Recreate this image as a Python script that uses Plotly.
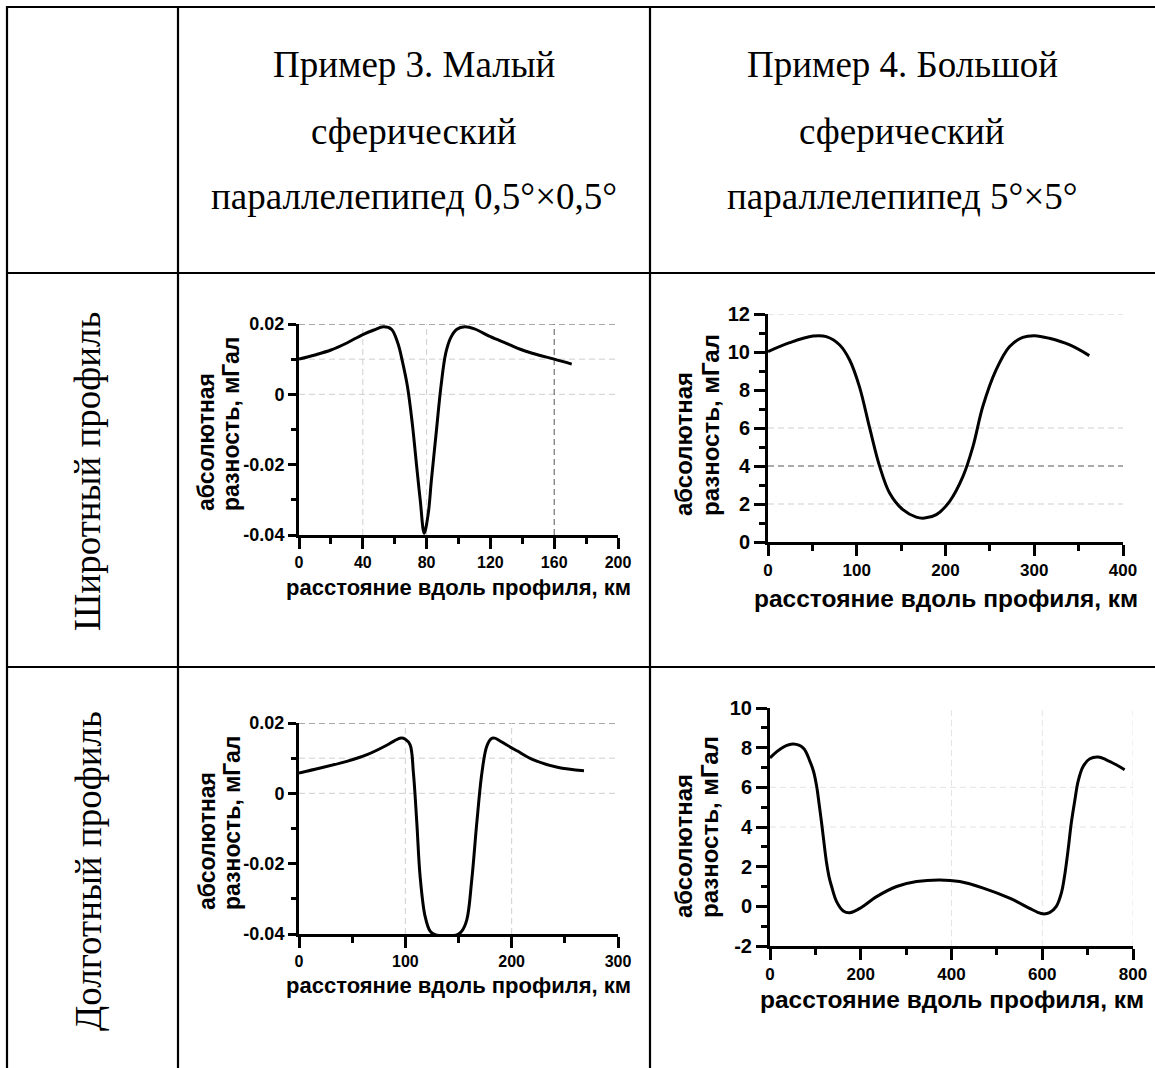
import plotly.graph_objects as go

W, H = 1155, 1068

# ---------------- data ----------------
# Пример 3, широтный профиль
X1 = [0, 10, 20, 30, 40, 47, 53, 58, 62, 65, 68, 71, 74, 76, 78.5, 81, 83, 86, 89, 92,
      95, 99, 104, 110, 120, 130, 140, 150, 160, 171]
Y1 = [0.0100, 0.0112, 0.0126, 0.0146, 0.0170, 0.0183, 0.0192, 0.0185, 0.0145, 0.0090,
      0.0022, -0.0082, -0.0215, -0.0300, -0.0395, -0.0340, -0.0244, -0.0110, 0.0022,
      0.0117, 0.0160, 0.0185, 0.0192, 0.0186, 0.0164, 0.0145, 0.0126, 0.0112, 0.0100, 0.0086]

# Пример 4, широтный профиль
X2 = [0, 24.4, 50.7, 65.7, 80.8, 92, 103, 114.6, 125.8, 137, 152, 167, 176.5, 189.7,
      204.7, 219.7, 231, 242, 257, 272, 287, 300.5, 317, 340, 362]
Y2 = [10.02, 10.49, 10.84, 10.81, 10.37, 9.58, 8.18, 5.99, 3.98, 2.58, 1.70, 1.31, 1.26,
      1.44, 2.14, 3.45, 5.03, 7.13, 9.06, 10.28, 10.77, 10.86, 10.72, 10.37, 9.81]

# Пример 3, долготный профиль
X3 = [0, 20, 45, 64, 82, 90, 96, 100, 104.5, 107.6, 110.8, 113.9, 118.6, 123.3, 128, 139,
      149, 153.1, 157.8, 162.5, 167.2, 172, 176.6, 181, 184, 188, 195, 205, 220, 243, 268]
Y3 = [0.0058, 0.0072, 0.0091, 0.0110, 0.0136, 0.0150, 0.0157, 0.0154, 0.0138, 0.0058,
      -0.0084, -0.0236, -0.0350, -0.0392, -0.0402, -0.0405, -0.0402, -0.0392, -0.0360,
      -0.0245, -0.0084, 0.0058, 0.0134, 0.0156, 0.0157, 0.0151, 0.0138, 0.0121, 0.0096,
      0.0074, 0.0064]

# Пример 4, долготный профиль
X4 = [0, 15, 29.4, 51.4, 73.4, 88, 96, 102.8, 108, 113.8, 119, 124.8, 130, 135.8, 146.8,
      161.5, 176, 198, 235, 279, 323, 374, 418, 470, 528, 572, 590, 602, 616, 631, 642,
      649, 657, 664, 672, 679, 690, 705, 723, 741, 763, 781.6]
Y4 = [7.48, 7.80, 8.03, 8.18, 7.98, 7.31, 6.80, 6.05, 5.20, 4.19, 3.20, 2.17, 1.50, 1.00,
      0.24, -0.23, -0.32, -0.10, 0.49, 1.00, 1.25, 1.33, 1.25, 0.92, 0.41, -0.10, -0.30,
      -0.38, -0.32, 0.00, 0.66, 1.50, 2.85, 4.20, 5.37, 6.30, 7.05, 7.44, 7.53, 7.39,
      7.14, 6.89]

# axis ranges / ticks
X_RANGES = [[0, 200], [0, 400], [0, 300], [0, 800]]
Y_RANGES = [[-0.04, 0.02], [0, 12], [-0.04, 0.02], [-2, 10]]
X_TICKS = [[0, 40, 80, 120, 160, 200], [0, 100, 200, 300, 400],
           [0, 100, 200, 300], [0, 200, 400, 600, 800]]
X_MINOR = [[20, 60, 100, 140, 180], [50, 150, 250, 350],
           [50, 150, 250], [100, 300, 500, 700]]
Y_TICKS = [[-0.04, -0.02, 0, 0.02], [0, 2, 4, 6, 8, 10, 12],
           [-0.04, -0.02, 0, 0.02], [-2, 0, 2, 4, 6, 8, 10]]
Y_TICKTEXT = [["-0.04", "-0.02", "0", "0.02"], ["0", "2", "4", "6", "8", "10", "12"],
              ["-0.04", "-0.02", "0", "0.02"], ["-2", "0", "2", "4", "6", "8", "10"]]
Y_MINOR = [[-0.03, -0.01, 0.01], [1, 3, 5, 7, 9, 11],
           [-0.03, -0.01, 0.01], [-1, 1, 3, 5, 7, 9]]

# grid lines: (value, style)
H_GRID = [[(0.02, "dark"), (0.01, "light"), (0, "light")],
          [(12, "light"), (6, "light"), (4, "dark"), (2, "light")],
          [(0.02, "dark"), (0.01, "light"), (0, "light")],
          [(6, "faint"), (4, "faint")]]
V_GRID = [[(40, "light"), (80, "light"), (160, "dark")],
          [],
          [(100, "light"), (200, "light")],
          [(400, "faint"), (600, "faint"), (800, "faint")]]

HEADER_COL1 = ["Пример 3. Малый", "сферический", "параллелепипед 0,5°×0,5°"]
HEADER_COL2 = ["Пример 4. Большой", "сферический", "параллелепипед 5°×5°"]
ROW_LABELS = ["Широтный профиль", "Долготный профиль"]
X_TITLE = "расстояние вдоль профиля, км"
Y_TITLE = ["абсолютная", "разность, мГал"]

# ---------------- layout helpers ----------------
def fx(px):
    return px / W

def fy(py):
    return 1 - py / H

# plot areas in pixels (left, right, top, bottom)
BOXES = [(299, 618, 324, 535), (768, 1123, 314, 542),
         (299, 618, 723, 934), (770, 1133, 708, 946)]
XT_POS = [587, 598, 985, 999]
XT_SIZE = [22, 24.5, 22, 24.5]
XTICK_SIZE = [16, 17, 16, 17]
YTICK_SIZE = [18, 20, 18, 20]
YTICK_LEN = [8, 11, 8, 11]
YMINOR_LEN = [5, 6, 5, 6]
YT_POS = [(206, 231, 513), (683, 710, 518), (207, 232, 912), (683, 709, 920)]
YT_SIZE = [23, 24, 23, 24]

SANS = "Liberation Sans, Arial, sans-serif"
SERIF = "Liberation Serif, Times New Roman, serif"
SERIF_SIZE = 37
GRID_STYLE = {"dark": ("#555555", "6px,4px"), "light": ("#cfcfcf", "6px,4px"),
              "faint": ("#e4e4e4", "6px,4px")}

fig = go.Figure()
XS = [X1, X2, X3, X4]
YS = [Y1, Y2, Y3, Y4]
shapes = []
annotations = []
layout = {}

for i in range(4):
    n = "" if i == 0 else str(i + 1)
    fig.add_trace(go.Scatter(x=XS[i], y=YS[i], mode="lines",
                             line=dict(color="black", width=3, shape="spline", smoothing=1.0),
                             xaxis="x" + n, yaxis="y" + n, showlegend=False))
    l, r, t, b = BOXES[i]
    layout["xaxis" + n] = dict(
        domain=[fx(l), fx(r)], anchor="y" + n, range=X_RANGES[i],
        tickmode="array", tickvals=X_TICKS[i], ticktext=[str(v) for v in X_TICKS[i]],
        ticks="outside", ticklen=11, tickwidth=3, tickcolor="black",
        showline=True, linewidth=3, linecolor="black", showgrid=False, zeroline=False,
        automargin=False,
        tickfont=dict(family=SANS, size=XTICK_SIZE[i], color="black", weight="bold"),
        minor=dict(tickvals=X_MINOR[i], ticks="outside", ticklen=6, tickwidth=3,
                   tickcolor="black", showgrid=False),
    )
    layout["yaxis" + n] = dict(
        domain=[fy(b), fy(t)], anchor="x" + n, range=Y_RANGES[i],
        tickmode="array", tickvals=Y_TICKS[i], ticktext=Y_TICKTEXT[i],
        ticks="outside", ticklen=YTICK_LEN[i], tickwidth=3, tickcolor="black",
        showline=True, linewidth=3, linecolor="black", showgrid=False, zeroline=False,
        automargin=False,
        tickfont=dict(family=SANS, size=YTICK_SIZE[i], color="black", weight="bold"),
        minor=dict(tickvals=Y_MINOR[i], ticks="outside", ticklen=YMINOR_LEN[i], tickwidth=3,
                   tickcolor="black", showgrid=False),
    )
    for v, st in H_GRID[i]:
        c, d = GRID_STYLE[st]
        shapes.append(dict(type="line", xref="x" + n + " domain", yref="y" + n,
                           x0=0, x1=1, y0=v, y1=v, layer="below",
                           line=dict(color=c, width=1, dash=d)))
    for v, st in V_GRID[i]:
        c, d = GRID_STYLE[st]
        shapes.append(dict(type="line", xref="x" + n, yref="y" + n + " domain",
                           x0=v, x1=v, y0=0, y1=1, layer="below",
                           line=dict(color=c, width=1, dash=d)))
    # x title
    annotations.append(dict(text=X_TITLE, xref="paper", yref="paper",
                            x=fx((l + r) / 2), y=fy(XT_POS[i]), xanchor="center",
                            yanchor="middle", showarrow=False,
                            font=dict(family=SANS, size=XT_SIZE[i], color="black",
                                      weight="bold")))
    # y title (two lines, rotated)
    xa, xb, yb = YT_POS[i]
    for txt, xx in zip(Y_TITLE, (xa, xb)):
        annotations.append(dict(text=txt, xref="paper", yref="paper", x=fx(xx), y=fy(yb),
                                xanchor="center", yanchor="bottom", textangle=-90,
                                showarrow=False,
                                font=dict(family=SANS, size=YT_SIZE[i], color="black",
                                          weight="bold")))

# table lines
TABLE_LW = 2.2
def hline(py, x0, x1):
    shapes.append(dict(type="line", xref="paper", yref="paper", x0=fx(x0), x1=fx(x1),
                       y0=fy(py), y1=fy(py), line=dict(color="black", width=TABLE_LW)))

def vline(px, y0, y1):
    shapes.append(dict(type="line", xref="paper", yref="paper", x0=fx(px), x1=fx(px),
                       y0=fy(y0), y1=fy(y1), line=dict(color="black", width=TABLE_LW)))

hline(7, 6, W)
hline(273, 6, W)
hline(667, 6, W)
vline(7, 6, H)
vline(178, 6, H)
vline(650, 6, H)

# headers
HEADER_Y = [65, 131, 197]
for txt, yy in zip(HEADER_COL1, HEADER_Y):
    annotations.append(dict(text=txt, xref="paper", yref="paper", x=fx(414), y=fy(yy),
                            xanchor="center", yanchor="middle", showarrow=False,
                            font=dict(family=SERIF, size=SERIF_SIZE, color="black")))
for txt, yy in zip(HEADER_COL2, HEADER_Y):
    annotations.append(dict(text=txt, xref="paper", yref="paper", x=fx(902), y=fy(yy),
                            xanchor="center", yanchor="middle", showarrow=False,
                            font=dict(family=SERIF, size=SERIF_SIZE, color="black")))
# row labels
for txt, yy in zip(ROW_LABELS, (472, 871)):
    annotations.append(dict(text=txt, xref="paper", yref="paper", x=fx(88), y=fy(yy),
                            xanchor="center", yanchor="middle", textangle=-90,
                            showarrow=False,
                            font=dict(family=SERIF, size=SERIF_SIZE, color="black")))

fig.update_layout(width=W, height=H, margin=dict(l=0, r=0, t=0, b=0, pad=0),
                  autosize=False,
                  paper_bgcolor="white", plot_bgcolor="white",
                  shapes=shapes, annotations=annotations, showlegend=False, **layout)

POST = ("document.documentElement.style.margin='0px';"
        "document.documentElement.style.overflow='hidden';"
        "document.body.style.margin='0px';"
        "document.body.style.padding='0px';"
        "document.body.style.overflow='hidden';"
        "var gd=document.getElementById('{plot_id}');"
        "gd.style.position='fixed';gd.style.left='0px';gd.style.top='0px';")

fig.write_html("out.html", config={"displayModeBar": False}, post_script=POST)
